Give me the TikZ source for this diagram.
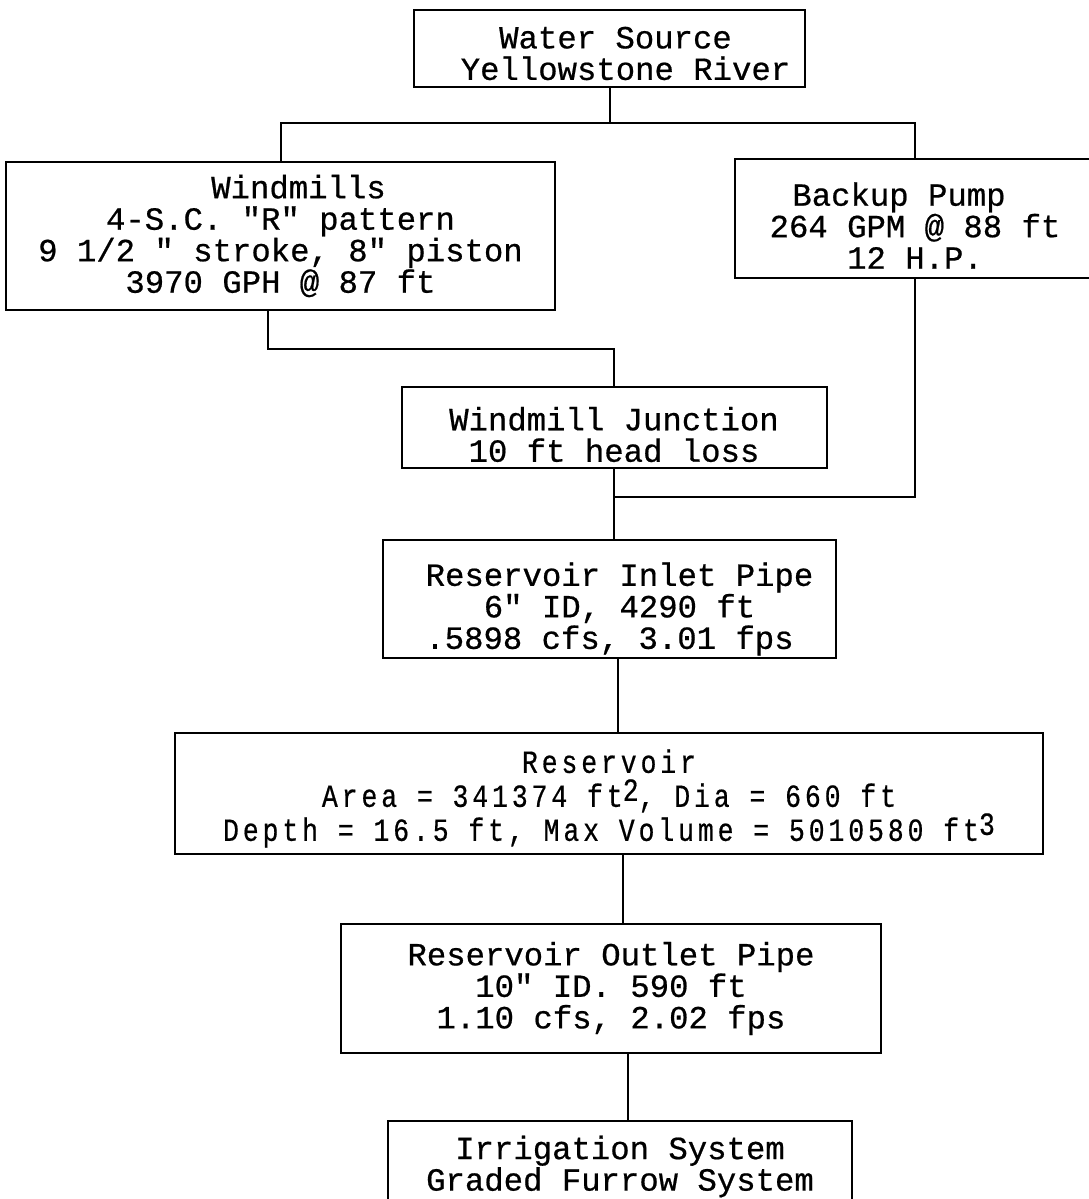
\documentclass[tikz,border=0pt]{standalone}
\usepackage{fontspec}
\setmonofont[FakeBold=0.6]{Liberation Mono}
\newfontfamily\resfont[FakeStretch=0.82,LetterSpace=12,FakeBold=0.5,WordSpace={1,0,0}]{Liberation Mono}
\frenchspacing
\begin{document}
\begin{tikzpicture}[x=1pt,y=-1pt,
  box/.style={draw, line width=2pt, rectangle, inner sep=0pt},
  txt/.style={inner sep=0pt, align=center,
    font=\ttfamily\fontsize{32.3}{31.5}\selectfont},
  rtxt/.style={inner sep=0pt, align=center,
    font=\resfont\fontsize{32.3}{34}\selectfont},
  wire/.style={line width=2pt}]
\fill[white] (0,0) rectangle (1089,1199);
\useasboundingbox (0,0) rectangle (1089,1199);

% boxes
\node[box, minimum width=391pt, minimum height=77pt] (WS) at (609.5,48.5) {};
\node[box, minimum width=549pt, minimum height=148pt] (WM) at (280.5,236) {};
\node[box, minimum width=360pt, minimum height=119pt] (BP) at (915,218.5) {};
\node[box, minimum width=425pt, minimum height=81pt] (JN) at (614,427.5) {};
\node[box, minimum width=453pt, minimum height=118pt] (IN) at (609.5,599) {};
\node[box, minimum width=868pt, minimum height=121pt] (RS) at (609,793.5) {};
\node[box, minimum width=540pt, minimum height=129pt] (OU) at (611,988.5) {};
\node[box, minimum width=464pt, minimum height=91pt] (IR) at (620,1166.5) {};

% texts
\node[txt] (WSt) at ([yshift=-5pt]WS.center)
  {\hspace*{12pt}Water Source\\\hspace*{32pt}Yellowstone River};
\node[txt] (WMt) at (WM.center)
  {\hspace*{36pt}Windmills\\4-S.C. "R" pattern\\9 1/2 " stroke, 8" piston\\3970 GPH @ 87 ft};
\node[txt] (BPt) at ([yshift=-7pt]BP.center)
  {Backup Pump\hspace*{32pt}\\264 GPM @ 88 ft\\12 H.P.};
\node[txt] (JNt) at ([yshift=-7pt]JN.center)
  {Windmill Junction\\10 ft head loss};
\node[txt] (INt) at ([yshift=-10pt]IN.center)
  {\hspace*{20pt}Reservoir Inlet Pipe\\\hspace*{20pt}6" ID, 4290 ft\\.5898 cfs, 3.01 fps};
\node[rtxt] (RSt) at ([yshift=-5pt]RS.center)
  {Reservoir\\Area = 341374 ft\raisebox{6pt}{2}, Dia = 660 ft\\Depth = 16.5 ft, Max Volume = 5010580 ft\raisebox{6pt}{3}};
\node[txt] (OUt) at (OU.center)
  {Reservoir Outlet Pipe\\10" ID. 590 ft\\1.10 cfs, 2.02 fps};
\node[txt] (IRt) at (IR.center)
  {Irrigation System\\Graded Furrow System};

% connectors
\coordinate (j1) at (608,123);
\coordinate (j3) at (614,497);

\draw[wire] (WS.south) -- (WS.south |- j1);
\draw[wire] (WM.north) |- (j1) -| (BP.north);
\draw[wire] ([xshift=-13pt]WM.south) -- ++(0,38) -| (JN.north);
\draw[wire] (JN.south) -- (JN.south |- IN.north);
\draw[wire] (BP.south) |- (j3);
\draw[wire] ([xshift=8pt]IN.south) -- ([xshift=8pt]IN.south |- RS.north);
\draw[wire] ([xshift=14pt]RS.south) -- ([xshift=14pt]RS.south |- OU.north);
\draw[wire] ([xshift=8pt]IR.north |- OU.south) -- ([xshift=8pt]IR.north);
\end{tikzpicture}
\end{document}
